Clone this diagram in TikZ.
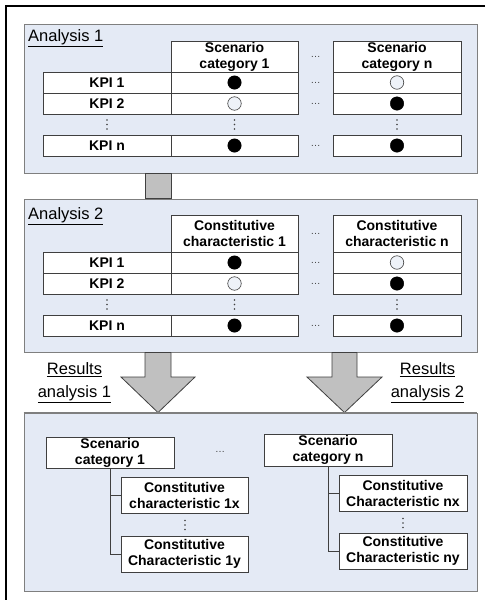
\documentclass[tikz,border=0pt]{standalone}
\usepackage{fontspec}
\setmainfont{Liberation Sans}
\usetikzlibrary{calc}
\definecolor{panelfill}{HTML}{E4EAF5}
\definecolor{panelline}{HTML}{7F7F7F}
\definecolor{cellline}{HTML}{3F3F3F}
\definecolor{emptyfill}{HTML}{EEF2F8}
\definecolor{arrowfill}{HTML}{C0C0C0}
\definecolor{arrowline}{HTML}{404040}
\definecolor{dotgray}{HTML}{404040}
\newcommand\vdotsat[3]{%
  \coordinate (#1) at (#2,#3);
  \fill[dotgray] ($(#1)+(0,-4.5)$) circle (0.8pt) (#1) circle (0.8pt) ($(#1)+(0,4.5)$) circle (0.8pt);
}
\newcommand\kpitable[5]{%
  \pgfmathsetmacro\hh{#3-#2}%
  \pgfmathsetmacro\hc{(#3+#2)/2}%
  \pgfmathsetmacro\ra{#3+10.5}%
  \pgfmathsetmacro\rb{#3+31.5}%
  \pgfmathsetmacro\rd{#3+52.5}%
  \pgfmathsetmacro\rn{#3+73.5}%
  \node[cell, minimum width=127pt, minimum height=\hh pt] (#1h1) at (234.5,\hc) {#4};
  \node[cell, minimum width=128pt, minimum height=\hh pt] (#1hn) at (397,\hc) {#5};
  \node[hdots] (#1d0) at (315.5,\hc) {…};
  % row 1
  \node[cell, kw] (#1k1) at (107,\ra) {KPI 1};
  \node[cell, cw] (#1a1) at (234.5,\ra) {};
  \node[cell, kw] (#1b1) at (397,\ra) {};
  \node[full] (#1a1m) at (#1a1) {};
  \node[empty] (#1b1m) at (#1b1) {};
  \node[hdots] (#1d1) at (315.5,\ra) {…};
  % row 2
  \node[cell, kw] (#1k2) at (107,\rb) {KPI 2};
  \node[cell, cw] (#1a2) at (234.5,\rb) {};
  \node[cell, kw] (#1b2) at (397,\rb) {};
  \node[empty] (#1a2m) at (#1a2) {};
  \node[full] (#1b2m) at (#1b2) {};
  \node[hdots] (#1d2) at (315.5,\rb) {…};
  % dots row
  \vdotsat{#1v1}{107}{\rd}
  \vdotsat{#1v2}{234.5}{\rd}
  \vdotsat{#1v3}{397}{\rd}
  % row n
  \node[cell, kw] (#1kn) at (107,\rn) {KPI n};
  \node[cell, cw] (#1an) at (234.5,\rn) {};
  \node[cell, kw] (#1bn) at (397,\rn) {};
  \node[full] (#1anm) at (#1an) {};
  \node[full] (#1bnm) at (#1bn) {};
  \node[hdots] (#1dn) at (315.5,\rn) {…};
}
\begin{document}
\begin{tikzpicture}[x=1pt,y=-1pt,
  panel/.style={draw=panelline, fill=panelfill, line width=0.9pt, inner sep=0pt, rectangle},
  cell/.style={draw=cellline, fill=white, line width=0.8pt, inner sep=0pt, rectangle,
    font=\fontsize{14}{16}\selectfont\bfseries, align=center},
  kw/.style={minimum width=128pt, minimum height=21pt},
  cw/.style={minimum width=127pt, minimum height=21pt},
  full/.style={circle, fill=black, draw=black, minimum size=13.5pt, inner sep=0pt},
  empty/.style={circle, fill=emptyfill, draw=cellline, line width=0.6pt, minimum size=13.5pt, inner sep=0pt},
  hdots/.style={text=dotgray, font=\fontsize{10}{10}\selectfont, inner sep=0pt},
  lbl/.style={font=\fontsize{16.5}{23}\selectfont, inner sep=0pt, align=center},
  bigarrow/.style={draw=arrowline, fill=arrowfill, line width=0.8pt, line join=miter},
  tree/.style={draw=cellline, line width=0.8pt}]
\useasboundingbox (0,0) rectangle (485,600);
\fill[white] (0,0) rectangle (485,600);
% outer frame (cut off at right and bottom)
\draw[line width=2pt] (485,6) -- (6,6) -- (6,600);

% panels
\node[panel, minimum width=453pt, minimum height=149pt] (P1) at (250.5,98.5) {};
\node[panel, minimum width=453pt, minimum height=153pt] (P2) at (250.5,275.5) {};
\node[panel, minimum width=453pt, minimum height=178pt] (P3) at (250.5,502) {};

% connector bar and arrows
\coordinate (s1l) at (145,0);
\coordinate (s1r) at (171,0);
\draw[bigarrow] (s1l |- P1.south) rectangle (s1r |- P2.north);
\coordinate (t1) at (158,0);
\draw[bigarrow] (s1l |- P2.south) -- (145,377) -- (121,377) -- (t1 |- P3.north)
  -- (195,377) -- (171,377) -- (s1r |- P2.south) -- cycle;
\coordinate (s2l) at (332,0);
\coordinate (s2r) at (357,0);
\coordinate (t2) at (344.5,0);
\draw[bigarrow] (s2l |- P2.south) -- (332,377) -- (307,377) -- (t2 |- P3.north)
  -- (382,377) -- (357,377) -- (s2r |- P2.south) -- cycle;
\draw[panelline, line width=0.9pt] (P3.north west) -- (P3.north east);

% labels
\node[lbl, anchor=base west] (A1) at (28,41.5) {\underline{Analysis 1}};
\node[lbl, anchor=base west] (A2) at (28,219) {\underline{Analysis 2}};
\node[lbl] (R1) at (74.5,383) {\underline{Results}\\\underline{analysis 1}};
\node[lbl] (R2) at (427.5,383) {\underline{Results}\\\underline{analysis 2}};

% tables
\kpitable{p}{41}{72}{Scenario\\category 1}{Scenario\\category n}
\kpitable{q}{215}{252}{Constitutive\\characteristic 1}{Constitutive\\characteristic n}

% bottom panel
\node[cell, minimum width=128pt, minimum height=31pt] (c1) at (110,452.5) {Scenario\\category 1};
\node[cell, minimum width=128pt, minimum height=32pt] (cn) at (328,450) {Scenario\\category n};
\node[hdots] (cd) at (220,452) {…};
\draw[tree] (c1.south) |- (184.5,495) coordinate (j1x);
\draw[tree] (c1.south) |- (184.5,554) coordinate (j1y);
\draw[tree] (cn.south) |- (403,493) coordinate (jnx);
\draw[tree] (cn.south) |- (403,551) coordinate (jny);
\node[cell, minimum width=127pt, minimum height=36pt] (x1) at (184.5,495) {Constitutive\\characteristic 1x};
\node[cell, minimum width=127pt, minimum height=36pt] (y1) at (184.5,554) {Constitutive\\Characteristic 1y};
\node[cell, minimum width=128pt, minimum height=36pt] (xn) at (403,493) {Constitutive\\Characteristic nx};
\node[cell, minimum width=128pt, minimum height=36pt] (yn) at (403,551) {Constitutive\\Characteristic ny};
\vdotsat{v1}{185}{525}
\vdotsat{vn}{403}{523}
\end{tikzpicture}
\end{document}
